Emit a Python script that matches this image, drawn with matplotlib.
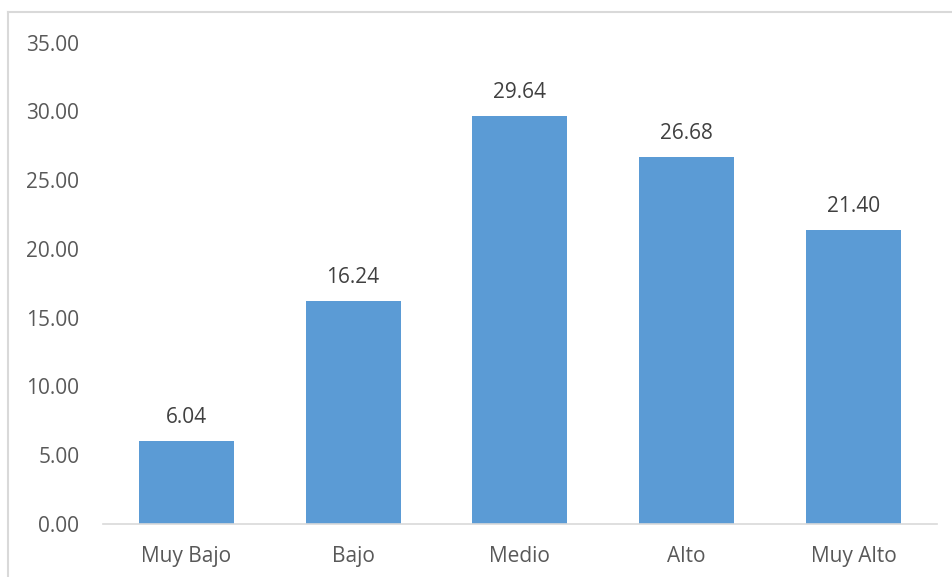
import matplotlib.pyplot as plt
from matplotlib.lines import Line2D

categorias = ["Muy Bajo", "Bajo", "Medio", "Alto", "Muy Alto"]
valores = [6.04, 16.24, 29.64, 26.68, 21.40]
ticks_y = [0, 5, 10, 15, 20, 25, 30, 35]

TEXTO = "#595959"
BARRA = "#5b9bd5"

plt.rcParams["font.family"] = ["Open Sans", "DejaVu Sans"]

fig = plt.figure(figsize=(9.53, 5.77), dpi=100)
ax = fig.add_axes([0.108, 0.092, 0.875, 0.834])

x = range(len(categorias))
barras = ax.bar(x, valores, width=0.57, color=BARRA)
for b, v in zip(barras, valores):
    ax.text(b.get_x() + b.get_width() / 2, v + 0.95, f"{v:.2f}",
            ha="center", va="bottom", fontsize=15, color="#404040")

ax.set_xlim(-0.5, len(categorias) - 0.5)
ax.set_ylim(0, 35)
ax.set_yticks(ticks_y)
ax.set_yticklabels([f"{t:.2f}" for t in ticks_y])
ax.set_xticks(list(x))
ax.set_xticklabels(categorias)
ax.tick_params(axis="both", length=0, labelsize=15, colors=TEXTO)
ax.tick_params(axis="y", pad=17)
ax.tick_params(axis="x", pad=16)

for lado in ["top", "right", "left"]:
    ax.spines[lado].set_visible(False)
ax.spines["bottom"].set_color("#d9d9d9")
ax.spines["bottom"].set_linewidth(1.2)

# marco del gráfico (solo arriba e izquierda visibles)
borde = "#d9d9d9"
fig.add_artist(Line2D([8 / 953, 1], [1 - 12 / 577] * 2, transform=fig.transFigure,
                      color=borde, linewidth=1.5))
fig.add_artist(Line2D([8 / 953] * 2, [0, 1 - 12 / 577], transform=fig.transFigure,
                      color=borde, linewidth=1.5))

fig.savefig("out.png", dpi=100)
